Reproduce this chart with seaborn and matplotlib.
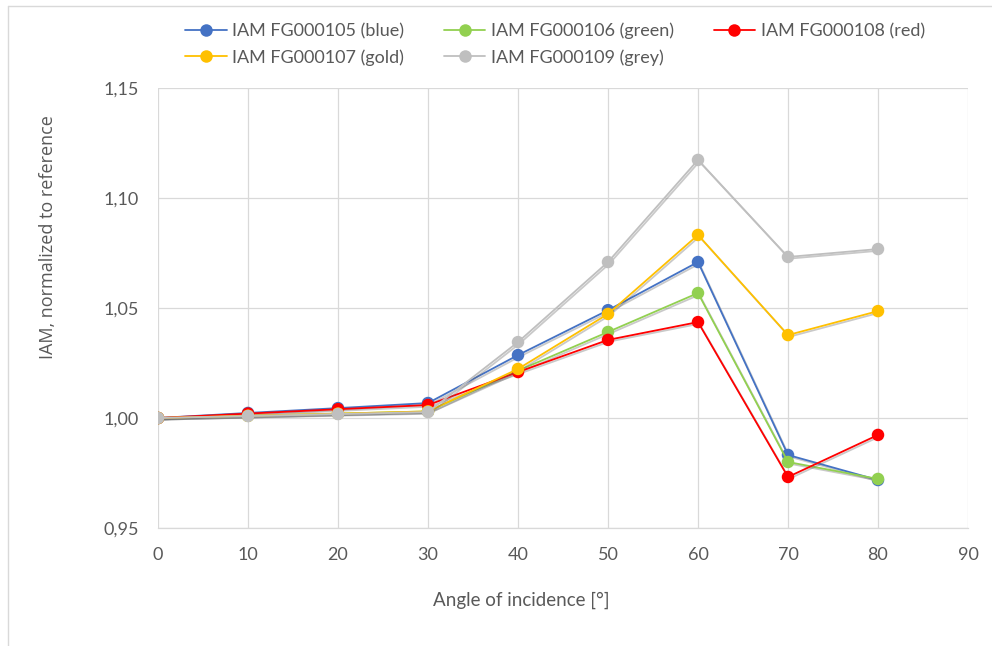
import matplotlib
matplotlib.use("Agg")
import matplotlib.pyplot as plt
import matplotlib.patheffects as pe
from matplotlib.lines import Line2D
import seaborn as sns
import pandas as pd

angles = [0, 10, 20, 30, 40, 50, 60, 70, 80]
series_names = ["IAM FG000105 (blue)", "IAM FG000106 (green)", "IAM FG000108 (red)",
                "IAM FG000107 (gold)", "IAM FG000109 (grey)"]
blue = [1.000, 1.0023, 1.0045, 1.0068, 1.0286, 1.0490, 1.0709, 0.9832, 0.9718]
green = [1.000, 1.0010, 1.0020, 1.0030, 1.0215, 1.0391, 1.0568, 0.9800, 0.9723]
red = [1.000, 1.0020, 1.0040, 1.0059, 1.0209, 1.0355, 1.0436, 0.9732, 0.9923]
gold = [1.000, 1.0010, 1.0020, 1.0030, 1.0223, 1.0473, 1.0832, 1.0377, 1.0486]
grey = [1.000, 1.0009, 1.0018, 1.0027, 1.0345, 1.0709, 1.1173, 1.0732, 1.0768]
colors = ["#4472C4", "#92D050", "#FF0000", "#FFC000", "#BFBFBF"]
y_ticks = [0.95, 1.00, 1.05, 1.10, 1.15]
y_tick_labels = ["0,95", "1,00", "1,05", "1,10", "1,15"]
x_ticks = [0, 10, 20, 30, 40, 50, 60, 70, 80, 90]

rows = []
for name, vals in zip(series_names, [blue, green, red, gold, grey]):
    for a, v in zip(angles, vals):
        rows.append({"angle": a, "iam": v, "series": name})
df = pd.DataFrame(rows)

sns.set_theme(style="white")
plt.rcParams["font.family"] = ["Lato", "DejaVu Sans"]

fig = plt.figure(figsize=(9.92, 6.46), dpi=100)
ax = fig.add_axes([158/992, 1 - 528/646, (968-158)/992, (528-88)/646])

for name, c in zip(series_names, colors):
    sub = df[df["series"] == name]
    sns.lineplot(data=sub, x="angle", y="iam", ax=ax, color=c, linewidth=1.3,
                 marker="o", markersize=9, markeredgewidth=0, legend=False)
for ln in ax.lines:
    ln.set_path_effects([pe.SimpleLineShadow(offset=(1, -1.2), shadow_color="#666666", alpha=0.35), pe.Normal()])

ax.set_xlim(0, 90)
ax.set_ylim(0.95, 1.15)
ax.set_xticks(x_ticks)
ax.set_yticks(y_ticks)
ax.set_yticklabels(y_tick_labels)
ax.grid(True, color="#D9D9D9", linewidth=0.9)
ax.set_axisbelow(True)
for s in ["top", "right", "left"]:
    ax.spines[s].set_visible(False)
ax.spines["bottom"].set_color("#D9D9D9")
ax.spines["bottom"].set_linewidth(0.9)
ax.tick_params(axis="both", length=0, labelsize=13, labelcolor="#595959", pad=14)
ax.set_xlabel("Angle of incidence [°]", fontsize=13.5, color="#595959")
ax.xaxis.set_label_coords((521 - 158) / 810, -(600 - 528) / 440)
ax.xaxis.label.set_va("center")
ax.set_ylabel("IAM, normalized to reference", fontsize=13, color="#595959",
              fontfamily=["Open Sans", "DejaVu Sans"])
ax.yaxis.set_label_coords((48 - 158) / 810, (528 - 237) / 440)
ax.yaxis.label.set_va("center")

# legend (column-wise order to get Excel row order)
order = [0, 3, 1, 4, 2]
handles = [Line2D([0], [0], color=colors[i], linewidth=1.3, marker="o", markersize=9,
                  markeredgewidth=0) for i in order]
labels = [series_names[i] for i in order]
leg = fig.legend(handles, labels, loc="center", bbox_to_anchor=(555/992, 1 - 44/646), ncol=3,
                 frameon=False, fontsize=13, handlelength=2.3, handletextpad=0.3,
                 columnspacing=2.2, labelspacing=0.55)
for t in leg.get_texts():
    t.set_color("#595959")

# outer frame lines (top and left)
fig.add_artist(Line2D([8/992, 1], [1 - 6/646, 1 - 6/646], color="#D9D9D9", linewidth=1.0,
                      transform=fig.transFigure))
fig.add_artist(Line2D([8/992, 8/992], [0, 1 - 6/646], color="#D9D9D9", linewidth=1.0,
                      transform=fig.transFigure))

fig.savefig("out.png", dpi=100, facecolor="white")
